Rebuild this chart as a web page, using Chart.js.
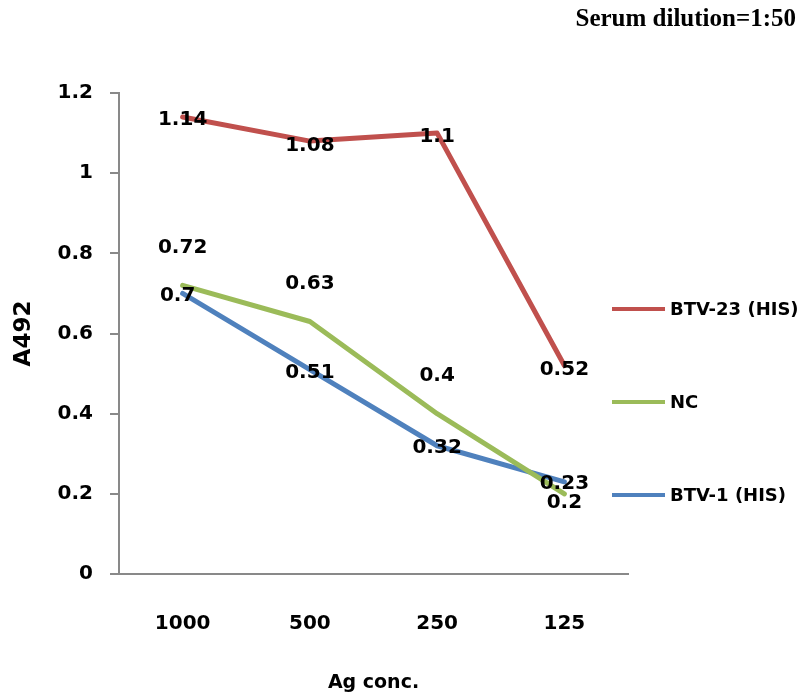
<!DOCTYPE html>
<html>
<head>
<meta charset="utf-8">
<script src="https://cdn.jsdelivr.net/npm/chart.js@4/dist/chart.umd.min.js"></script>
<style>
html,body{margin:0;padding:0;background:#fff;}
#wrap{width:806px;height:696px;position:relative;}
</style>
</head>
<body>
<div id="wrap"><canvas id="c" width="806" height="696"></canvas></div>
<script>
// ---- data ----
const categories = ["1000", "500", "250", "125"];
const btv23 = [1.14, 1.08, 1.1, 0.52];
const nc = [0.72, 0.63, 0.4, 0.2];
const btv1 = [0.7, 0.51, 0.32, 0.23];
const seriesNames = ["BTV-23 (HIS)", "NC", "BTV-1 (HIS)"];
const yTickLabels = ["0", "0.2", "0.4", "0.6", "0.8", "1", "1.2"];
const chartTitle = "Serum dilution=1:50";
const xTitle = "Ag conc.";
const yTitle = "A492";

// ---- styles ----
const colors = ["#C0504D", "#9BBB59", "#4F81BD"];
const labelFont = "bold 20px 'DejaVu Sans'";
// label offsets (px) per dataset / point
const labelOffsets = [
  [[0,3],[0,5],[0,4],[0,4]],
  [[0,-38],[0,-38],[0,-38],[0,9]],
  [[-5,2],[0,3],[0,2],[0,2]]
];

const labelPlugin = {
  id: 'pointLabels',
  afterDatasetsDraw(chart) {
    const ctx = chart.ctx;
    ctx.save();
    ctx.font = labelFont;
    ctx.fillStyle = '#000';
    ctx.textAlign = 'center';
    ctx.textBaseline = 'middle';
    chart.data.datasets.forEach((ds, di) => {
      const meta = chart.getDatasetMeta(di);
      meta.data.forEach((pt, i) => {
        const off = labelOffsets[di][i];
        ctx.fillText(String(ds.data[i]), pt.x + off[0], pt.y + off[1]);
      });
    });
    ctx.restore();
  }
};

const legendPlugin = {
  id: 'sideLegend',
  afterDraw(chart) {
    const ctx = chart.ctx;
    const ys = [309, 402, 495];
    ctx.save();
    chart.data.datasets.forEach((ds, i) => {
      ctx.strokeStyle = ds.borderColor;
      ctx.lineWidth = 4;
      ctx.beginPath();
      ctx.moveTo(612, ys[i]);
      ctx.lineTo(665, ys[i]);
      ctx.stroke();
      ctx.fillStyle = '#000';
      ctx.font = "bold 18px 'DejaVu Sans'";
      ctx.textAlign = 'left';
      ctx.textBaseline = 'middle';
      ctx.fillText(ds.label, 670, ys[i] + 1);
    });
    ctx.font = "bold 25px 'Liberation Serif'";
    ctx.textAlign = 'right';
    ctx.textBaseline = 'middle';
    ctx.fillText(chartTitle, 796, 20);
    ctx.restore();
  }
};

const axisColor = '#898989';

new Chart(document.getElementById('c'), {
  type: 'line',
  data: {
    labels: categories,
    datasets: [
      { label: seriesNames[0], data: btv23, borderColor: colors[0], backgroundColor: colors[0] },
      { label: seriesNames[1], data: nc, borderColor: colors[1], backgroundColor: colors[1] },
      { label: seriesNames[2], data: btv1, borderColor: colors[2], backgroundColor: colors[2] }
    ]
  },
  options: {
    responsive: false,
    animation: false,
    devicePixelRatio: 1,
    layout: { padding: { left: 0, top: 93, right: 178, bottom: 0 } },
    elements: {
      line: { borderWidth: 5, tension: 0, borderCapStyle: 'round', borderJoinStyle: 'round' },
      point: { radius: 0, hoverRadius: 0 }
    },
    plugins: { legend: { display: false }, tooltip: { enabled: false } },
    scales: {
      x: {
        offset: true,
        grid: { display: false },
        border: { display: true, color: axisColor, width: 2 },
        ticks: { color: '#000', font: { family: 'DejaVu Sans', weight: 'bold', size: 20 }, padding: 30, maxRotation: 0 },
        title: { display: true, text: xTitle, color: '#000', font: { family: 'DejaVu Sans', weight: 'bold', size: 19 }, padding: { top: 0, bottom: 2 } },
        afterFit(scale) { scale.height = 122; }
      },
      y: {
        min: 0, max: 1.2,
        ticks: {
          stepSize: 0.2, color: '#000', padding: 17,
          font: { family: 'DejaVu Sans', weight: 'bold', size: 20 },
          callback: (v, i) => yTickLabels[i]
        },
        grid: { drawOnChartArea: false, drawTicks: true, tickLength: 9, color: axisColor, lineWidth: 2 },
        border: { display: true, color: axisColor, width: 2 },
        title: { display: true, text: yTitle, color: '#000', font: { family: 'DejaVu Sans', weight: 'bold', size: 23 }, padding: { top: 10, bottom: 0 } },
        afterFit(scale) { scale.width = 119; }
      }
    }
  },
  plugins: [labelPlugin, legendPlugin]
});
</script>
</body>
</html>
